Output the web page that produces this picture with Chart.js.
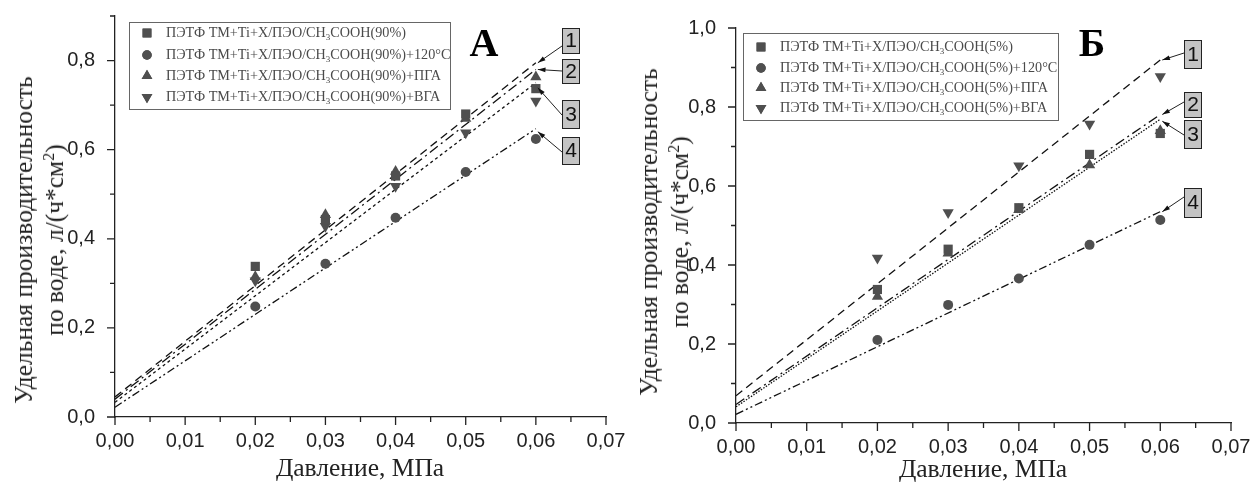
<!DOCTYPE html>
<html>
<head>
<meta charset="utf-8">
<script src="https://cdn.jsdelivr.net/npm/chart.js@4.4.0/dist/chart.umd.min.js"></script>
<style>
body{margin:0;width:1254px;height:482px;position:relative;background:#fff;overflow:hidden;font-family:"Liberation Serif",serif;color:#222}
canvas{position:absolute;top:0}
.ytitle{position:absolute;font-size:25.5px;line-height:31px;text-align:center;white-space:nowrap;transform:translate(-50%,-50%) rotate(-90deg)}
.ytitle span{position:relative;top:-9px;font-size:16px;line-height:0}
.xtitle{position:absolute;font-size:25.5px;white-space:nowrap;transform:translate(-50%,-50%)}
</style>
</head>
<body>
<canvas id="chartA" width="627" height="482" style="left:0"></canvas>
<canvas id="chartB" width="627" height="482" style="left:627px"></canvas>
<div class="ytitle" style="left:39px;top:240px">Удельная производительность<br>по воде, л/(ч*см<span>2</span>)</div>
<div class="ytitle" style="left:664px;top:232px">Удельная производительность<br>по воде, л/(ч*см<span>2</span>)</div>
<div class="xtitle" style="left:360px;top:468px">Давление, МПа</div>
<div class="xtitle" style="left:983px;top:469px">Давление, МПа</div>
<script>
// давление, МПа
var pressure = [0.02, 0.03, 0.04, 0.05, 0.06];

// А: CH3COOH 90%
var squareA = [0.338, 0.443, 0.541, 0.680, 0.737];
var circleA = [0.248, 0.344, 0.447, 0.550, 0.624];
var triUpA = [0.315, 0.454, 0.551, 0.670, 0.763];
var triDownA = [0.306, 0.428, 0.518, 0.638, 0.709];
var fitStartA = [0.045, 0.040, 0.033, 0.022];   // at 0 МПа
var fitEndA = [0.795, 0.780, 0.750, 0.647];     // at 0.06 МПа
var labelsA = ['ПЭТФ ТМ+Ti+Х/ПЭО/CH_3COOH(90%)', 'ПЭТФ ТМ+Ti+Х/ПЭО/CH_3COOH(90%)+120°C',
	'ПЭТФ ТМ+Ti+Х/ПЭО/CH_3COOH(90%)+ПГА', 'ПЭТФ ТМ+Ti+Х/ПЭО/CH_3COOH(90%)+ВГА'];

// Б: CH3COOH 5%
var squareB = [0.338, 0.440, 0.545, 0.680, 0.733];
var circleB = [0.210, 0.299, 0.366, 0.451, 0.514];
var triUpB = [0.320, 0.430, 0.540, 0.653, 0.740];
var triDownB = [0.418, 0.533, 0.651, 0.757, 0.877];
var fitStartB = [0.069, 0.047, 0.041, 0.022];
var fitEndB = [0.919, 0.781, 0.769, 0.535];
var labelsB = ['ПЭТФ ТМ+Ti+Х/ПЭО/CH_3COOH(5%)', 'ПЭТФ ТМ+Ti+Х/ПЭО/CH_3COOH(5%)+120°C',
	'ПЭТФ ТМ+Ti+Х/ПЭО/CH_3COOH(5%)+ПГА', 'ПЭТФ ТМ+Ti+Х/ПЭО/CH_3COOH(5%)+ВГА'];

var fitNames = ['1', '2', '3', '4'];
var fitX = [0, 0.06];

var markerCol = '#4f4f4f';
var shapes = [['rect', 0, 6.5], ['circle', 0, 5], ['triangle', 0, 6.5], ['triangle', 180, 6.5]];
var dashes = [[8, 5], [10, 4, 2, 4], [3, 3], [8, 3, 2, 3, 2, 3]];
var dashesB = [[8, 5], [10, 4, 2, 4], [1.5, 1.5], [8, 3, 2, 3, 2, 3]];

function pts(xs, ys){
	var out = [];
	for (var i in xs) out.push({x: xs[i], y: ys[i]});
	return out;
}

function buildDatasets(series, fitStart, fitEnd, dash){
	var ds = [];
	for (var i = 0; i < series.length; i++){
		ds.push({
			type: 'scatter', data: pts(pressure, series[i]),
			pointStyle: shapes[i][0], rotation: shapes[i][1], pointRadius: shapes[i][2],
			backgroundColor: markerCol, borderColor: markerCol, borderWidth: 0
		});
	}
	for (var j = 0; j < fitStart.length; j++){
		ds.push({
			type: 'line', data: pts(fitX, [fitStart[j], fitEnd[j]]),
			borderColor: '#111', borderWidth: 1.3, borderDash: dash[j],
			pointRadius: 0, fill: false
		});
	}
	return ds;
}

function comma(v, d){ return v.toFixed(d).replace('.', ','); }

// рисок, легенда, номера линий
var decor = {
	id: 'decor',
	afterDraw: function(chart){
		var o = chart.options.plugins.decor;
		var ctx = chart.ctx, a = chart.chartArea, xs = chart.scales.x, ys = chart.scales.y;
		ctx.save();
		ctx.strokeStyle = '#222'; ctx.lineWidth = 1.3;
		ctx.beginPath();
		for (var i = 0; i <= 14; i++){
			var px = xs.getPixelForValue(i * 0.005);
			ctx.moveTo(px, a.bottom); ctx.lineTo(px, a.bottom + (i % 2 ? 5 : 8));
		}
		var n = Math.round(ys.max / 0.1);
		for (var k = 0; k <= n; k++){
			var py = ys.getPixelForValue(k * 0.1);
			ctx.moveTo(a.left, py); ctx.lineTo(a.left - (k % 2 ? 5 : 8), py);
		}
		ctx.stroke();

		// legend
		var L = o.legend;
		ctx.strokeStyle = '#666'; ctx.lineWidth = 1;
		ctx.strokeRect(L.x + 0.5, L.y + 0.5, L.w, L.h);
		for (var r = 0; r < o.labels.length; r++){
			var ry = L.rows[r];
			Chart.helpers.drawPoint(ctx, {pointStyle: shapes[r][0], rotation: shapes[r][1], radius: shapes[r][2] * 0.95},
				L.mx, ry);
			ctx.fillStyle = markerCol; ctx.fill();
			var parts = o.labels[r].split('_3');
			ctx.fillStyle = '#4a4a4a'; ctx.textBaseline = 'middle';
			ctx.font = L.font + 'px "Liberation Serif"';
			var tx = L.tx;
			ctx.fillText(parts[0], tx, ry); tx += ctx.measureText(parts[0]).width;
			ctx.font = Math.round(L.font * 0.65) + 'px "Liberation Serif"';
			ctx.fillText('3', tx, ry + 5); tx += ctx.measureText('3').width;
			ctx.font = L.font + 'px "Liberation Serif"';
			ctx.fillText(parts[1], tx, ry);
		}

		// panel letter
		ctx.fillStyle = '#000'; ctx.font = 'bold 40px "Liberation Serif"';
		ctx.textAlign = 'center'; ctx.textBaseline = 'middle';
		ctx.fillText(o.letter[0], o.letter[1], o.letter[2]);

		// numbered boxes with arrows
		for (var b = 0; b < o.boxes.length; b++){
			var B = o.boxes[b];
			var ex = xs.getPixelForValue(fitX[1]) + 2, ey = ys.getPixelForValue(o.ends[b]) + B.dy;
			var sx = B.x, sy = B.ay;
			ctx.strokeStyle = '#222'; ctx.lineWidth = 1;
			ctx.beginPath(); ctx.moveTo(sx, sy); ctx.lineTo(ex, ey); ctx.stroke();
			var ang = Math.atan2(ey - sy, ex - sx);
			ctx.beginPath();
			ctx.moveTo(ex, ey);
			ctx.lineTo(ex - 8 * Math.cos(ang - 0.3), ey - 8 * Math.sin(ang - 0.3));
			ctx.lineTo(ex - 8 * Math.cos(ang + 0.3), ey - 8 * Math.sin(ang + 0.3));
			ctx.closePath(); ctx.fillStyle = '#111'; ctx.fill();
			ctx.fillStyle = '#c4c4c4'; ctx.fillRect(B.x, B.y, 17, B.h);
			ctx.strokeRect(B.x + 0.5, B.y + 0.5, 17, B.h);
			ctx.fillStyle = '#111'; ctx.font = '21px "Liberation Sans"';
			ctx.fillText(fitNames[b], B.x + 9, B.y + B.h / 2 + 1);
		}
		ctx.restore();
	}
};

function makeChart(id, series, fitStart, fitEnd, dash, yMax, yWidth, xHeight, pad, decorOpts){
	var ctx = document.getElementById(id);
	return new Chart(ctx, {
		type: 'scatter',
		data: {datasets: buildDatasets(series, fitStart, fitEnd, dash)},
		options: {
			responsive: false, animation: false,
			layout: {padding: pad},
			plugins: {legend: {display: false}, tooltip: {enabled: false}, decor: decorOpts},
			scales: {
				x: {
					type: 'linear', min: 0, max: 0.07,
					grid: {display: false}, border: {display: true, color: '#222', width: 1.3},
					ticks: {stepSize: 0.01, maxRotation: 0, padding: 4, color: '#222', font: {family: 'Liberation Sans', size: 20},
						callback: function(v){ return comma(v, 2); }},
					afterFit: function(s){ s.height = xHeight; s.paddingLeft = 0; s.paddingRight = 0; }
				},
				y: {
					min: 0, max: yMax,
					grid: {display: false}, border: {display: true, color: '#222', width: 1.3},
					ticks: {stepSize: 0.2, includeBounds: false, padding: 12, color: '#222', font: {family: 'Liberation Sans', size: 20},
						callback: function(v){ return Math.round(v * 10) % 2 ? '' : comma(v, 1); }},
					afterFit: function(s){ s.width = yWidth; s.paddingTop = 0; s.paddingBottom = 0; }
				}
			}
		},
		plugins: [decor]
	});
}

makeChart('chartA', [squareA, circleA, triUpA, triDownA], fitStartA, fitEndA, dashes, 0.9, 115, 65,
	{top: 16, right: 21, left: 0, bottom: 0},
	{
		labels: labelsA, ends: fitEndA,
		legend: {x: 129, y: 22, w: 321, h: 87, rows: [33, 55, 76, 97], mx: 147, tx: 166, font: 14.2},
		letter: ['А', 484, 46],
		boxes: [{x: 562, y: 28, h: 25, ay: 46, dy: 0}, {x: 562, y: 59, h: 24, ay: 71, dy: 0},
			{x: 562, y: 100, h: 28, ay: 115, dy: 5}, {x: 562, y: 137, h: 27, ay: 152, dy: 3}]
	});

makeChart('chartB', [squareB, circleB, triUpB, triDownB], fitStartB, fitEndB, dashesB, 1.0, 109, 59,
	{top: 28, right: 23, left: 0, bottom: 0},
	{
		labels: labelsB, ends: fitEndB,
		legend: {x: 116, y: 33, w: 315, h: 87, rows: [47, 68, 88, 108], mx: 134, tx: 153, font: 14.2},
		letter: ['Б', 465, 46],
		boxes: [{x: 557, y: 40, h: 28, ay: 53, dy: 0}, {x: 557, y: 92, h: 25, ay: 102, dy: 0},
			{x: 557, y: 120, h: 28, ay: 135, dy: 2}, {x: 557, y: 188, h: 29, ay: 197, dy: 0}]
	});
</script>
</body>
</html>
